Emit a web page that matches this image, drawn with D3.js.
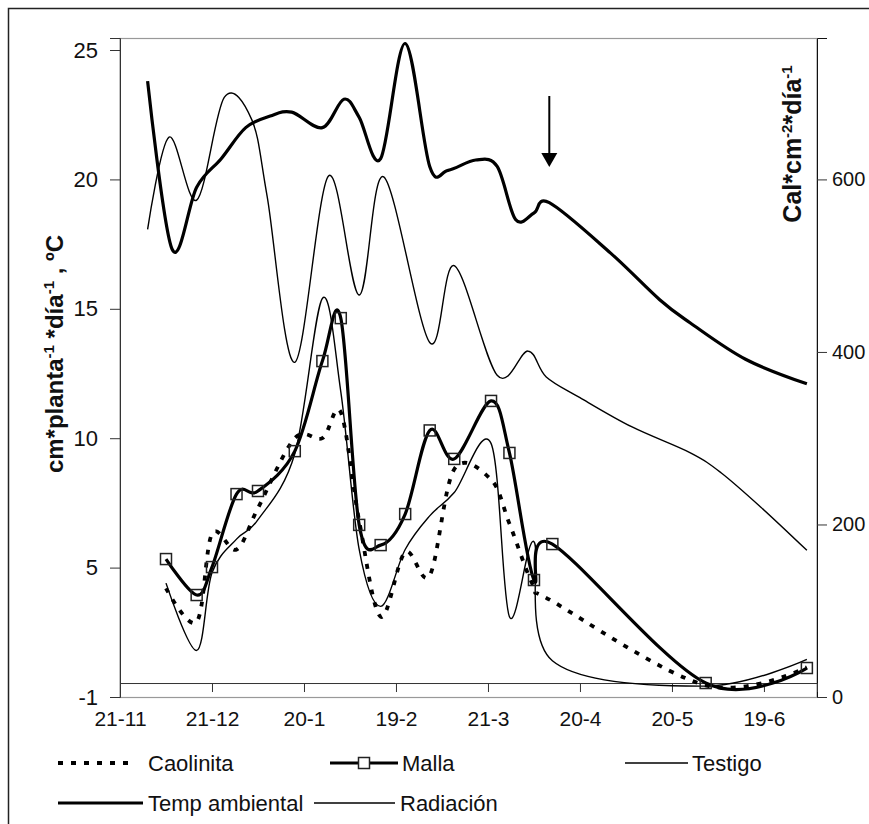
<!DOCTYPE html>
<html>
<head>
<meta charset="utf-8">
<script src="https://cdn.jsdelivr.net/npm/d3@7"></script>
<style>
  body { margin: 0; background: #fff; }
  svg { display: block; font-family: "Liberation Sans", Arial, sans-serif; }
</style>
</head>
<body>
<svg id="chart" width="869" height="824"></svg>
<script>
// Sampling dates of the growth measurements (Caolinita, Malla, Testigo)
const sampleDates = ["2001-12-06","2001-12-16","2001-12-21","2001-12-29","2002-01-05","2002-01-17",
  "2002-01-26","2002-02-01","2002-02-07","2002-02-14","2002-02-22","2002-03-02","2002-03-10",
  "2002-03-22","2002-03-28","2002-04-05","2002-04-11","2002-05-31","2002-07-03"];
const caolinita = [4.2, 2.9, 6.3, 5.7, 7.3, 10.0, 10.0, 11.0, 6.8, 3.1, 5.6, 4.7, 8.8, 8.4, 6.7, 4.25, 3.7, 0.45, 1.15];
const malla     = [5.33, 3.94, 5.02, 7.84, 7.96, 9.5, 12.98, 14.64, 6.65, 5.87, 7.07, 10.3, 9.2, 11.44, 9.43, 4.52, 5.91, 0.54, 1.12];
const testigo   = [4.4, 1.8, 4.8, 6.1, 6.85, 9.4, 15.4, 11.8, 5.7, 3.5, 5.7, 7.0, 7.9, 9.8, 3.1, 6.0, 1.4, 0.42, 1.45];

// Air temperature (ºC)
const tempDates = ["2001-11-30","2001-12-08","2001-12-16","2001-12-24","2002-01-01","2002-01-09","2002-01-16",
  "2002-01-26","2002-02-02","2002-02-07","2002-02-14","2002-02-22","2002-03-02","2002-03-08","2002-03-17",
  "2002-03-24","2002-03-30","2002-04-05","2002-04-10","2002-04-30","2002-05-16","2002-05-26","2002-06-13","2002-07-03"];
const tempAmbiental = [23.8, 17.3, 19.7, 20.8, 22.0, 22.45, 22.6, 22.0, 23.1, 22.4, 20.8, 25.25, 20.5, 20.35, 20.75,
  20.5, 18.45, 18.7, 19.1, 17.15, 15.35, 14.45, 13.05, 12.1];

// Solar radiation (Cal*cm-2*día-1)
const radDates = ["2001-11-30","2001-12-07","2001-12-16","2001-12-25","2002-01-03","2002-01-08","2002-01-17",
  "2002-01-28","2002-02-07","2002-02-15","2002-03-02","2002-03-10","2002-03-24","2002-04-03","2002-04-09",
  "2002-04-20","2002-05-07","2002-05-26","2002-06-05","2002-06-18","2002-07-03"];
const radiacion = [542, 649, 576, 695, 669, 580, 388, 604, 466, 603, 411, 500, 373, 401, 371, 347, 313, 283, 260, 220, 170];

// Axis ticks
const xTickDates = ["2001-11-21","2001-12-21","2002-01-20","2002-02-19","2002-03-21","2002-04-20","2002-05-20","2002-06-19"];
const xTickLabels = ["21-11","21-12","20-1","19-2","21-3","20-4","20-5","19-6"];
const leftTicks = [0, 5, 10, 15, 20, 25];
const leftTickLabels = ["-1", "5", "10", "15", "20", "25"];
const rightTicks = [0, 200, 400, 600];

const parse = d3.utcParse("%Y-%m-%d");
const svg = d3.select("#chart");

const plot = { left: 120, right: 817, top: 38, bottom: 697 };
const startDate = parse("2001-11-21");
const endDate = new Date(startDate.getTime() + 227.3 * 864e5);

const x = d3.scaleUtc().domain([startDate, endDate]).range([plot.left, plot.right]);
const yL = d3.scaleLinear().domain([0, 25.464]).range([plot.bottom, plot.top]);
const yR = d3.scaleLinear().domain([0, 25.464 * 30]).range([plot.bottom, plot.top]);
const axisCross = 0.54;

// outer frame
svg.append("rect").attr("x", 8.5).attr("y", 8.5).attr("width", 900).attr("height", 900)
  .attr("fill", "none").attr("stroke", "#222").attr("stroke-width", 1.5);

// plot area border
svg.append("rect").attr("x", plot.left).attr("y", plot.top + 0.5)
  .attr("width", plot.right - plot.left).attr("height", plot.bottom - plot.top)
  .attr("fill", "none").attr("stroke", "#999").attr("stroke-width", 1.2);

// left axis
const gL = svg.append("g").attr("transform", `translate(${plot.left},0)`)
  .call(d3.axisLeft(yL).tickValues(leftTicks).tickSize(10).tickPadding(12)
    .tickFormat((d, i) => leftTickLabels[i]));
gL.select(".domain").attr("stroke", "#333");
gL.selectAll(".tick line").attr("stroke", "#333");
gL.selectAll("text").attr("font-size", 22).attr("fill", "#111");

// right axis (labels kept inside the page width)
const gR = svg.append("g").attr("transform", `translate(${plot.right},0)`)
  .call(d3.axisRight(yR).tickValues(rightTicks).tickSize(10).tickPadding(5));
gR.select(".domain").attr("stroke", "#111");
gR.selectAll(".tick line").attr("stroke", "#333");
gR.selectAll("text").attr("font-size", 20).attr("fill", "#111");

// category axis
const gX = svg.append("g").attr("transform", `translate(0,${yL(axisCross)})`)
  .call(d3.axisBottom(x).tickValues(xTickDates.map(parse)).tickSize(9).tickPadding(19)
    .tickFormat((d, i) => xTickLabels[i]));
gX.select(".domain").attr("stroke", "#333");
gX.selectAll(".tick line").attr("stroke", "#333");
gX.selectAll("text").attr("font-size", 21).attr("fill", "#111");

// axis titles
const titleL = svg.append("text")
  .attr("transform", "translate(63,354) rotate(-90)")
  .attr("text-anchor", "middle").attr("font-size", 24).attr("font-weight", "bold").attr("fill", "#111");
titleL.append("tspan").text("cm*planta");
titleL.append("tspan").attr("dy", -9).attr("font-size", 15).text("-1");
titleL.append("tspan").attr("dy", 9).text(" *día");
titleL.append("tspan").attr("dy", -9).attr("font-size", 15).text("-1");
titleL.append("tspan").attr("dy", 9).text(" , ºC");

const titleR = svg.append("text")
  .attr("transform", "translate(801,144) rotate(-90)")
  .attr("text-anchor", "middle").attr("font-size", 25).attr("font-weight", "bold").attr("fill", "#111");
titleR.append("tspan").text("Cal*cm");
titleR.append("tspan").attr("dy", -9).attr("font-size", 15).text("-2");
titleR.append("tspan").attr("dy", 9).text("*día");
titleR.append("tspan").attr("dy", -9).attr("font-size", 15).text("-1");

// series
const smooth = d3.curveCardinal.tension(0);
const zip = (dates, vals) => dates.map((d, i) => ({ date: parse(d), v: vals[i] }));

const lineL = d3.line().curve(smooth).x(d => x(d.date)).y(d => yL(d.v));
const lineR = d3.line().curve(smooth).x(d => x(d.date)).y(d => yR(d.v));

const series = svg.append("g").attr("fill", "none").attr("stroke", "#000")
  .attr("stroke-linejoin", "round");

series.append("path").datum(zip(radDates, radiacion)).attr("d", lineR).attr("stroke-width", 1.4);
series.append("path").datum(zip(tempDates, tempAmbiental)).attr("d", lineL).attr("stroke-width", 3.2);
series.append("path").datum(zip(sampleDates, testigo)).attr("d", lineL).attr("stroke-width", 1.4);
series.append("path").datum(zip(sampleDates, caolinita)).attr("d", lineL)
  .attr("stroke-width", 3.8).attr("stroke-dasharray", "5,8");
series.append("path").datum(zip(sampleDates, malla)).attr("d", lineL).attr("stroke-width", 3.2);

svg.append("g").selectAll("rect").data(zip(sampleDates, malla)).join("rect")
  .attr("x", d => x(d.date) - 5.5).attr("y", d => yL(d.v) - 5.5)
  .attr("width", 11).attr("height", 11)
  .attr("fill", "none").attr("stroke", "#222").attr("stroke-width", 1.5);

// arrow marking the date of interest
const arrowX = x(parse("2002-04-10"));
svg.append("line").attr("x1", arrowX).attr("x2", arrowX).attr("y1", 96).attr("y2", 155)
  .attr("stroke", "#000").attr("stroke-width", 2);
svg.append("path").attr("d", `M${arrowX - 8},153 L${arrowX + 8},153 L${arrowX},167 Z`).attr("fill", "#000");

// legend
const legend = svg.append("g").attr("font-size", 22).attr("fill", "#111");
const legendItems = [
  { name: "Caolinita", x1: 58, x2: 136, tx: 148, y: 763, w: 3.8, dash: "5,8" },
  { name: "Malla", x1: 330, x2: 398, tx: 402, y: 763, w: 3.2, marker: true },
  { name: "Testigo", x1: 625, x2: 688, tx: 692, y: 763, w: 1.4 },
  { name: "Temp ambiental", x1: 58, x2: 143, tx: 148, y: 803, w: 3.2 },
  { name: "Radiación", x1: 314, x2: 395, tx: 400, y: 803, w: 1.4 }
];
legendItems.forEach(it => {
  legend.append("line").attr("x1", it.x1).attr("x2", it.x2).attr("y1", it.y).attr("y2", it.y)
    .attr("stroke", "#000").attr("stroke-width", it.w).attr("stroke-dasharray", it.dash || null);
  if (it.marker) {
    const mx = (it.x1 + it.x2) / 2;
    legend.append("rect").attr("x", mx - 5.5).attr("y", it.y - 5.5).attr("width", 11).attr("height", 11)
      .attr("fill", "#fff").attr("stroke", "#222").attr("stroke-width", 1.5);
  }
  legend.append("text").attr("x", it.tx).attr("y", it.y).attr("dy", "0.36em").text(it.name);
});
</script>
</body>
</html>
